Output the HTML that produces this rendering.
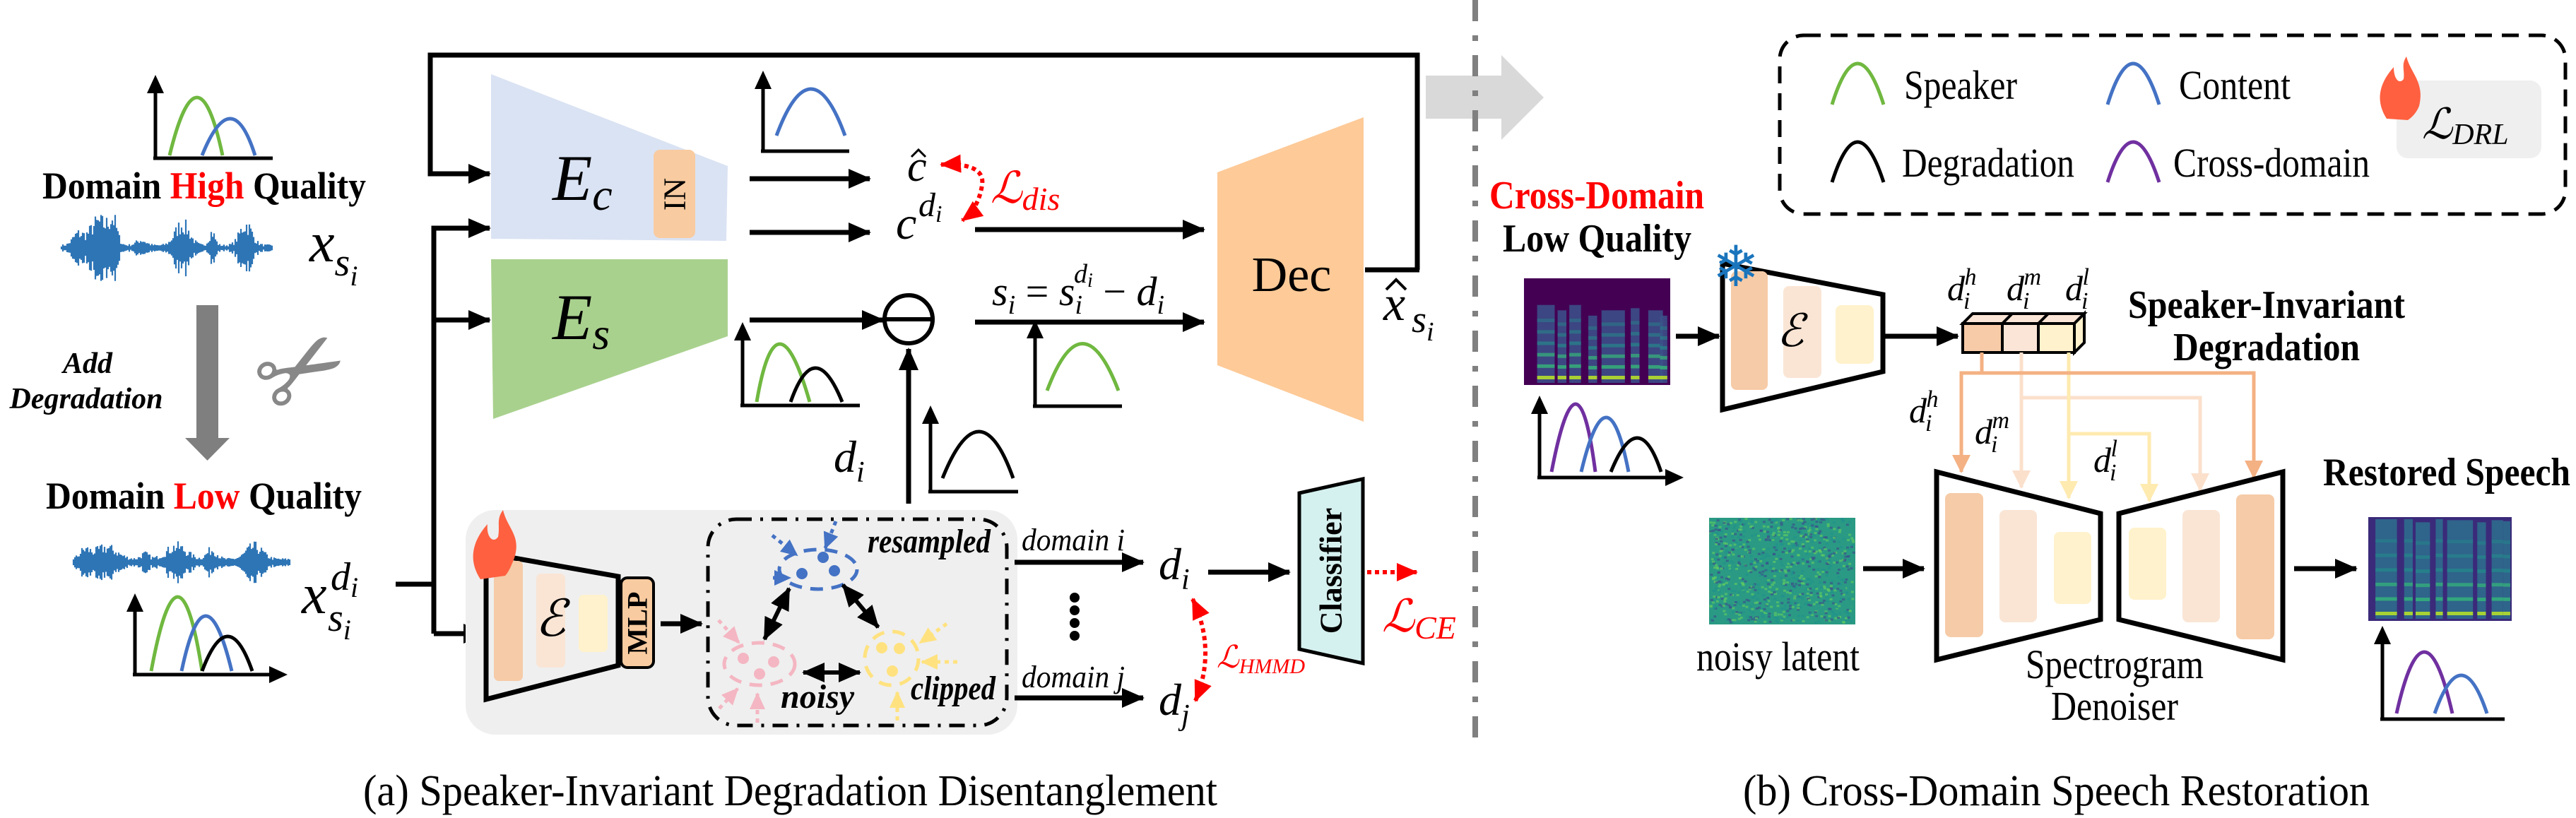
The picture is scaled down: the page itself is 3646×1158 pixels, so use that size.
<!DOCTYPE html>
<html><head><meta charset="utf-8"><style>
html,body{margin:0;padding:0;background:#fff;}
svg{display:block;}
.m{font-style:italic;}
.b{font-weight:bold;}
</style></head><body>
<svg id="s" width="3646" height="1158" viewBox="0 0 3646 1158" xmlns="http://www.w3.org/2000/svg" font-family="Liberation Serif, Times New Roman, Times, DejaVu Serif, serif">
<defs>
<marker id="ah" markerWidth="32" markerHeight="28" refX="30" refY="14" orient="auto" markerUnits="userSpaceOnUse"><path d="M0,0 L32,14 L0,28 z" fill="#000"/></marker>
<marker id="ahs" markerWidth="32" markerHeight="28" refX="2" refY="14" orient="auto" markerUnits="userSpaceOnUse"><path d="M32,0 L0,14 L32,28 z" fill="#000"/></marker>
<marker id="ar" markerWidth="30" markerHeight="26" refX="28" refY="13" orient="auto" markerUnits="userSpaceOnUse"><path d="M0,0 L30,13 L0,26 z" fill="#f00"/></marker>
<marker id="ars" markerWidth="30" markerHeight="26" refX="2" refY="13" orient="auto" markerUnits="userSpaceOnUse"><path d="M30,0 L0,13 L30,26 z" fill="#f00"/></marker>
<marker id="ab" markerWidth="24" markerHeight="22" refX="22" refY="11" orient="auto" markerUnits="userSpaceOnUse"><path d="M0,0 L24,11 L0,22 z" fill="#4472c4"/></marker>
<marker id="ap" markerWidth="24" markerHeight="22" refX="22" refY="11" orient="auto" markerUnits="userSpaceOnUse"><path d="M0,0 L24,11 L0,22 z" fill="#f4b6c2"/></marker>
<marker id="ay" markerWidth="24" markerHeight="22" refX="22" refY="11" orient="auto" markerUnits="userSpaceOnUse"><path d="M0,0 L24,11 L0,22 z" fill="#ffe27f"/></marker>
<marker id="o1" markerWidth="26" markerHeight="26" refX="24" refY="13" orient="auto" markerUnits="userSpaceOnUse"><path d="M0,0 L26,13 L0,26 z" fill="#f4b183"/></marker>
<marker id="o2" markerWidth="26" markerHeight="26" refX="24" refY="13" orient="auto" markerUnits="userSpaceOnUse"><path d="M0,0 L26,13 L0,26 z" fill="#fbe0cc"/></marker>
<marker id="o3" markerWidth="26" markerHeight="26" refX="24" refY="13" orient="auto" markerUnits="userSpaceOnUse"><path d="M0,0 L26,13 L0,26 z" fill="#ffeab0"/></marker>
<marker id="ax" markerWidth="26" markerHeight="24" refX="4" refY="12" orient="auto" markerUnits="userSpaceOnUse"><path d="M0,0 L26,12 L0,24 z" fill="#000"/></marker>
</defs>

<!-- ===== LEFT: input ===== -->
<g fill="none" stroke-width="5">
<path d="M220,224 V128" stroke="#000" marker-end="url(#ax)"/>
<path d="M217,224 H386" stroke="#000"/>
<path d="M240,220 Q280,56 315,220" stroke="#70b840"/>
<path d="M286,220 Q328,116 361,220" stroke="#4472c4"/>
</g>
<text x="60" y="281" font-size="54" class="b" textLength="458" lengthAdjust="spacingAndGlyphs">Domain <tspan fill="#f00">High</tspan> Quality</text>
<g id="wave1"></g>
<text x="438" y="370" font-size="80" class="m">x<tspan font-size="56" dy="20">s</tspan><tspan font-size="40" dy="14">i</tspan></text>
<path d="M278,432 H309 V620 H325 L293.5,652 L262,620 H278 Z" fill="#7f7f7f"/>
<text x="124" y="528" font-size="42" class="m b" text-anchor="middle">Add</text>
<text x="122" y="578" font-size="42" class="m b" text-anchor="middle">Degradation</text>
<text x="431" y="575" font-size="150" text-anchor="middle" fill="#888" font-family="DejaVu Sans, sans-serif" transform="rotate(-30 431 532)">✂</text>
<text x="65" y="720" font-size="54" class="b" textLength="447" lengthAdjust="spacingAndGlyphs">Domain <tspan fill="#f00">Low</tspan> Quality</text>
<g id="wave2"></g>
<g fill="none" stroke-width="5">
<path d="M191,955 V862" stroke="#000" marker-end="url(#ax)"/>
<path d="M188,955 H385" stroke="#000" marker-end="url(#ax)"/>
<path d="M214,950 Q253,740 286,950" stroke="#70b840"/>
<path d="M257,950 Q290,794 328,950" stroke="#4472c4"/>
<path d="M286,950 Q323,852 357,950" stroke="#000"/>
</g>
<text x="427" y="868" font-size="80" class="m">x</text>
<text x="464" y="893" font-size="56" class="m">s<tspan font-size="40" dy="12">i</tspan></text>
<text x="468" y="835" font-size="56" class="m">d<tspan font-size="40" dy="10">i</tspan></text>

<!-- routing lines -->
<g fill="none" stroke="#000" stroke-width="7">
<path d="M560,827 H614"/>
<path d="M2006,382 V78 H609 V246 H693" marker-end="url(#ah)"/>
<path d="M1932,382 H2009"/>
<path d="M614,897 V323 H693" marker-end="url(#ah)"/>
<path d="M614,453 H693" marker-end="url(#ah)"/>
<path d="M614,897 H686" marker-end="url(#ah)"/>
</g>

<!-- Ec / Es -->
<path d="M695,105 L1030,235 L1028,341 L695,338 Z" fill="#dae3f3"/>
<rect x="925" y="212" width="59" height="125" rx="9" fill="#f8cba0"/>
<text x="955" y="275" font-size="44" text-anchor="middle" dominant-baseline="central" transform="rotate(-90 955 275)">IN</text>
<text x="782" y="283" font-size="92" class="m">E<tspan font-size="64" dy="14">c</tspan></text>
<path d="M695,367 L1030,367 L1030,476 L698,593 Z" fill="#a9d18e"/>
<text x="782" y="480" font-size="92" class="m">E<tspan font-size="64" dy="14">s</tspan></text>

<g fill="none" stroke="#000" stroke-width="7">
<path d="M1061,253 H1231" marker-end="url(#ah)"/>
<path d="M1061,329 H1231" marker-end="url(#ah)"/>
<path d="M1061,453 H1250" marker-end="url(#ah)"/>
</g>
<g fill="none" stroke-width="5">
<path d="M1080,214 V122" stroke="#000" marker-end="url(#ax)"/>
<path d="M1077,214 H1202" stroke="#000"/>
<path d="M1099,192 Q1148,60 1196,192" stroke="#4472c4"/>
<path d="M1051,574 V478" stroke="#000" marker-end="url(#ax)"/>
<path d="M1048,574 H1217" stroke="#000"/>
<path d="M1071,569 Q1099,405 1146,569" stroke="#70b840"/>
<path d="M1119,569 Q1153,473 1192,569" stroke="#000"/>
</g>

<!-- c hat, c^di, Ldis -->
<text x="1284" y="256" font-size="62" class="m">c</text>
<path d="M1290,222 L1300,212 L1310,222" fill="none" stroke="#000" stroke-width="3"/>
<text x="1268" y="338" font-size="66" class="m">c</text>
<text x="1300" y="306" font-size="48" class="m">d<tspan font-size="34" dy="8">i</tspan></text>
<path d="M1332,233 Q1395,230 1390,262 Q1385,295 1362,312" fill="none" stroke="#f00" stroke-width="6" stroke-dasharray="6,5" marker-end="url(#ar)" marker-start="url(#ars)"/>
<text x="1402" y="287" font-size="62" fill="#f00" class="m">ℒ<tspan font-size="46" dy="10">dis</tspan></text>
<g fill="none" stroke="#000" stroke-width="7">
<path d="M1380,325 H1704" marker-end="url(#ah)"/>
<path d="M1380,456 H1704" marker-end="url(#ah)"/>
<path d="M1286,713 V494" marker-end="url(#ah)"/>
</g>
<circle cx="1286" cy="452" r="34" fill="#fff" stroke="#000" stroke-width="6"/>
<line x1="1252" y1="452" x2="1320" y2="452" stroke="#000" stroke-width="6"/>
<text x="1404" y="432" font-size="58" class="m">s<tspan font-size="38" dy="12">i</tspan><tspan dy="-12" font-style="normal"> = </tspan>s<tspan font-size="38" dy="12">i</tspan><tspan font-size="38" dx="-12" dy="-44">d</tspan><tspan font-size="28" dy="6">i</tspan><tspan dy="26" font-style="normal"> − </tspan>d<tspan font-size="38" dy="12">i</tspan></text>
<g fill="none" stroke-width="5">
<path d="M1465,575 V475" stroke="#000" marker-end="url(#ax)"/>
<path d="M1462,575 H1588" stroke="#000"/>
<path d="M1482,553 Q1532,420 1583,553" stroke="#70b840"/>
<path d="M1317,696 V596" stroke="#000" marker-end="url(#ax)"/>
<path d="M1314,696 H1441" stroke="#000"/>
<path d="M1334,677 Q1387,545 1434,677" stroke="#000"/>
</g>
<text x="1180" y="668" font-size="64" class="m">d<tspan font-size="42" dy="14">i</tspan></text>

<!-- Dec -->
<path d="M1723,244 L1930,166 L1930,597 L1723,517 Z" fill="#fdca98"/>
<text x="1828" y="412" font-size="70" text-anchor="middle">Dec</text>
<text x="1958" y="453" font-size="70" class="m">x</text>
<path d="M1962,410 L1976,396 L1990,410" fill="none" stroke="#000" stroke-width="4"/>
<text x="1998" y="470" font-size="54" class="m">s<tspan font-size="38" dy="12">i</tspan></text>

<!-- big gray arrow + divider -->
<path d="M2018,107 H2125 V78 L2185,138 L2125,198 V168 H2018 Z" fill="#d9d9d9"/>
<line x1="2088" y1="0" x2="2088" y2="1045" stroke="#808080" stroke-width="8" stroke-dasharray="30,20,8,20"/>

<!-- bottom-left gray area -->
<rect x="659" y="722" width="781" height="318" rx="42" fill="#efefef"/>
<path d="M688,783 L875,816 L875,942 L688,990 Z" fill="none" stroke="#000" stroke-width="7"/>
<rect x="699" y="794" width="41" height="170" rx="7" fill="#f6cba7"/>
<rect x="759" y="812" width="41" height="133" rx="7" fill="#fae5d5"/>
<rect x="819" y="842" width="41" height="81" rx="7" fill="#fff2cc"/>
<text x="779" y="900" font-size="72" text-anchor="middle" class="m">ℰ</text>
<path d="M680,820 C660,790 672,762 690,742 C688,760 698,770 705,760 C708,745 702,735 712,722 C718,748 738,758 728,790 C724,800 720,810 715,815 Z" fill="#ff6040"/>
<rect x="879" y="818" width="46" height="127" rx="9" fill="#f8cba0" stroke="#000" stroke-width="4"/>
<text x="902" y="882" font-size="40" class="b" text-anchor="middle" dominant-baseline="central" transform="rotate(-90 902 882)">MLP</text>
<path d="M935,883 H993" stroke="#000" stroke-width="7" marker-end="url(#ah)"/>
<rect x="1002" y="735" width="423" height="292" rx="40" fill="none" stroke="#000" stroke-width="5" stroke-dasharray="22,12,4,12"/>

<!-- clusters -->
<ellipse cx="1158" cy="806" rx="55" ry="28" fill="none" stroke="#4472c4" stroke-width="5" stroke-dasharray="18,12"/>
<circle cx="1135" cy="812" r="8" fill="#4472c4"/><circle cx="1165" cy="789" r="8" fill="#4472c4"/><circle cx="1181" cy="808" r="8" fill="#4472c4"/>
<g stroke-width="5" stroke-dasharray="6,6" fill="none">
<path d="M1094,818 H1118" stroke="#4472c4" marker-end="url(#ab)"/>
<path d="M1093,758 L1128,786" stroke="#4472c4" marker-end="url(#ab)"/>
<path d="M1183,738 L1168,776" stroke="#4472c4" marker-end="url(#ab)"/>
<path d="M1017,878 L1046,910" stroke="#f4b6c2" marker-end="url(#ap)"/>
<path d="M1018,1003 L1044,975" stroke="#f4b6c2" marker-end="url(#ap)"/>
<path d="M1072,1023 V982" stroke="#f4b6c2" marker-end="url(#ap)"/>
<path d="M1340,883 L1302,910" stroke="#ffe27f" marker-end="url(#ay)"/>
<path d="M1355,937 H1305" stroke="#ffe27f" marker-end="url(#ay)"/>
<path d="M1270,1020 V980" stroke="#ffe27f" marker-end="url(#ay)"/>
</g>
<ellipse cx="1075" cy="940" rx="50" ry="30" fill="none" stroke="#f4b6c2" stroke-width="5" stroke-dasharray="18,12"/>
<circle cx="1052" cy="932" r="8" fill="#f4b6c2"/><circle cx="1095" cy="937" r="8" fill="#f4b6c2"/><circle cx="1075" cy="954" r="8" fill="#f4b6c2"/>
<circle cx="1262" cy="932" r="38" fill="none" stroke="#ffe27f" stroke-width="5" stroke-dasharray="18,12"/>
<circle cx="1248" cy="917" r="8" fill="#ffe27f"/><circle cx="1273" cy="918" r="8" fill="#ffe27f"/><circle cx="1263" cy="950" r="8" fill="#ffe27f"/>
<g stroke="#000" stroke-width="6" fill="none">
<path d="M1117,833 L1082,905" marker-end="url(#ah)" marker-start="url(#ahs)"/>
<path d="M1193,828 L1243,888" marker-end="url(#ah)" marker-start="url(#ahs)"/>
<path d="M1137,952 H1217" marker-end="url(#ah)" marker-start="url(#ahs)"/>
</g>
<text x="1228" y="782" font-size="48" class="m b" textLength="174" lengthAdjust="spacingAndGlyphs">resampled</text>
<text x="1105" y="1002" font-size="48" class="m b">noisy</text>
<text x="1289" y="990" font-size="48" class="m b" textLength="120" lengthAdjust="spacingAndGlyphs">clipped</text>

<!-- domain arrows -->
<text x="1446" y="779" font-size="44" class="m" textLength="146" lengthAdjust="spacingAndGlyphs">domain i</text>
<text x="1446" y="973" font-size="44" class="m" textLength="146" lengthAdjust="spacingAndGlyphs">domain j</text>
<g stroke="#000" stroke-width="7" fill="none">
<path d="M1436,796 H1618" marker-end="url(#ah)"/>
<path d="M1436,988 H1618" marker-end="url(#ah)"/>
<path d="M1710,810 H1825" marker-end="url(#ah)"/>
</g>
<circle cx="1521" cy="846" r="7"/><circle cx="1521" cy="864" r="7"/><circle cx="1521" cy="882" r="7"/><circle cx="1521" cy="900" r="7"/>
<text x="1640" y="820" font-size="64" class="m">d<tspan font-size="42" dy="14">i</tspan></text>
<text x="1640" y="1012" font-size="64" class="m">d<tspan font-size="42" dy="14">j</tspan></text>
<path d="M1688,848 Q1722,920 1692,992" fill="none" stroke="#f00" stroke-width="6" stroke-dasharray="6,5" marker-end="url(#ar)" marker-start="url(#ars)"/>
<text x="1722" y="945" font-size="44" fill="#f00" class="m">ℒ<tspan font-size="30" dy="8">HMMD</tspan></text>
<path d="M1839,698 L1929,678 L1929,939 L1839,919 Z" fill="#d5f1ef" stroke="#000" stroke-width="5"/>
<text x="1884" y="808" font-size="44" class="b" text-anchor="middle" dominant-baseline="central" transform="rotate(-90 1884 808)">Classifier</text>
<path d="M1935,810 H2005" stroke="#f00" stroke-width="6" stroke-dasharray="6,5" marker-end="url(#ar)" fill="none"/>
<text x="1956" y="894" font-size="64" fill="#f00" class="m">ℒ<tspan font-size="46" dy="10">CE</tspan></text>

<text x="514" y="1140" font-size="62" textLength="1209" lengthAdjust="spacingAndGlyphs">(a) Speaker-Invariant Degradation Disentanglement</text>

<!-- ===== RIGHT ===== -->
<rect x="2519" y="50" width="1112" height="253" rx="34" fill="none" stroke="#000" stroke-width="5" stroke-dasharray="24,14"/>
<g fill="none" stroke-width="5">
<path d="M2593,148 Q2629,32 2666,148" stroke="#70b840"/>
<path d="M2983,148 Q3019,32 3056,148" stroke="#4472c4"/>
<path d="M2593,258 Q2629,144 2666,258" stroke="#000"/>
<path d="M2983,258 Q3019,144 3056,258" stroke="#7030a0"/>
</g>
<text x="2695" y="140" font-size="58" textLength="160" lengthAdjust="spacingAndGlyphs">Speaker</text>
<text x="3084" y="140" font-size="58" textLength="158" lengthAdjust="spacingAndGlyphs">Content</text>
<text x="2692" y="250" font-size="58" textLength="244" lengthAdjust="spacingAndGlyphs">Degradation</text>
<text x="3076" y="250" font-size="58" textLength="278" lengthAdjust="spacingAndGlyphs">Cross-domain</text>
<rect x="3392" y="114" width="205" height="110" rx="16" fill="#efefef"/>
<path d="M3378,168 C3360,140 3370,115 3388,95 C3388,112 3396,120 3402,112 C3404,100 3398,92 3406,80 C3412,104 3432,116 3424,150 C3420,160 3414,166 3408,170 Z" fill="#ff6040"/>
<text x="3428" y="196" font-size="60" class="m">ℒ<tspan font-size="42" dy="8">DRL</tspan></text>

<text x="2108" y="295" font-size="56" class="b" fill="#f00" textLength="304" lengthAdjust="spacingAndGlyphs">Cross-Domain</text>
<text x="2127" y="356" font-size="56" class="b" textLength="267" lengthAdjust="spacingAndGlyphs">Low Quality</text>
<g id="spec1"></g>
<g fill="none" stroke-width="5">
<path d="M2179,676 V582" stroke="#000" marker-end="url(#ax)"/>
<path d="M2176,676 H2361" stroke="#000" marker-end="url(#ax)"/>
<path d="M2196,668 Q2233,476 2258,668" stroke="#7030a0"/>
<path d="M2238,668 Q2275,514 2305,668" stroke="#4472c4"/>
<path d="M2280,668 Q2319,572 2351,668" stroke="#000"/>
</g>
<path d="M2372,476 H2433" stroke="#000" stroke-width="7" marker-end="url(#ah)"/>
<path d="M2438,373 L2665,417 L2665,526 L2438,580 Z" fill="none" stroke="#000" stroke-width="7"/>
<rect x="2450" y="384" width="52" height="168" rx="8" fill="#f6cba7"/>
<rect x="2524" y="405" width="54" height="130" rx="8" fill="#fae5d5"/>
<rect x="2598" y="432" width="54" height="83" rx="8" fill="#fff2cc"/>
<text x="2534" y="490" font-size="64" text-anchor="middle" class="m">ℰ</text>
<text x="2457" y="405" font-size="80" text-anchor="middle" fill="#1a75bc" font-family="DejaVu Sans, sans-serif">❄</text>
<path d="M2665,476 H2771" stroke="#000" stroke-width="7" marker-end="url(#ah)"/>
<!-- cubes -->
<g stroke="#000" stroke-width="4">
<path d="M2778,458 L2792,444 L2950,444 L2936,458 Z" fill="#fbe5d6"/>
<path d="M2936,458 L2950,444 L2950,485 L2936,499 Z" fill="#fff2cc"/>
<rect x="2778" y="458" width="56" height="41" fill="#f8cba8"/>
<rect x="2834" y="458" width="51" height="41" fill="#fbe5d6"/>
<rect x="2885" y="458" width="51" height="41" fill="#fff2cc"/>
<line x1="2834" y1="458" x2="2848" y2="444"/><line x1="2885" y1="458" x2="2899" y2="444"/>
</g>
<text x="2756" y="425" font-size="50" class="m">d<tspan font-size="34" dx="-2" dy="12">i</tspan><tspan font-size="34" dx="-8" dy="-34">h</tspan></text>
<text x="2840" y="425" font-size="50" class="m">d<tspan font-size="34" dx="-2" dy="12">i</tspan><tspan font-size="34" dx="-8" dy="-34">m</tspan></text>
<text x="2923" y="425" font-size="50" class="m">d<tspan font-size="34" dx="-2" dy="12">i</tspan><tspan font-size="34" dx="-8" dy="-34">l</tspan></text>
<text x="3012" y="450" font-size="56" class="b" textLength="392" lengthAdjust="spacingAndGlyphs">Speaker-Invariant</text>
<text x="3076" y="510" font-size="56" class="b" textLength="264" lengthAdjust="spacingAndGlyphs">Degradation</text>
<!-- connectors -->
<g fill="none" stroke-width="5">
<path d="M2861,499 V563 H3114 V694" stroke="#fbe0cc" marker-end="url(#o2)"/>
<path d="M2861,563 V690" stroke="#fbe0cc" marker-end="url(#o2)"/>
<path d="M2928,499 V614 H3042 V709" stroke="#ffeab0" marker-end="url(#o3)"/>
<path d="M2928,614 V705" stroke="#ffeab0" marker-end="url(#o3)"/>
<path d="M2805,499 V528 H3190 V676" stroke="#f4b183" marker-end="url(#o1)"/>
<path d="M2805,528 H2776 V668" stroke="#f4b183" marker-end="url(#o1)"/>
</g>
<text x="2702" y="598" font-size="50" class="m">d<tspan font-size="34" dx="-2" dy="12">i</tspan><tspan font-size="34" dx="-8" dy="-34">h</tspan></text>
<text x="2795" y="628" font-size="50" class="m">d<tspan font-size="34" dx="-2" dy="12">i</tspan><tspan font-size="34" dx="-8" dy="-34">m</tspan></text>
<text x="2963" y="668" font-size="50" class="m">d<tspan font-size="34" dx="-2" dy="12">i</tspan><tspan font-size="34" dx="-8" dy="-34">l</tspan></text>
<!-- denoiser -->
<path d="M2741,668 L2973,727 L2973,877 L2741,934 Z" fill="none" stroke="#000" stroke-width="7"/>
<path d="M2999,727 L3231,668 L3231,934 L2999,877 Z" fill="none" stroke="#000" stroke-width="7"/>
<rect x="2753" y="698" width="54" height="204" rx="8" fill="#f6cba7"/>
<rect x="2830" y="722" width="53" height="159" rx="8" fill="#fae5d5"/>
<rect x="2907" y="753" width="53" height="102" rx="8" fill="#fff2cc"/>
<rect x="3013" y="747" width="53" height="102" rx="8" fill="#fff2cc"/>
<rect x="3089" y="722" width="53" height="159" rx="8" fill="#fae5d5"/>
<rect x="3165" y="700" width="54" height="205" rx="8" fill="#f6cba7"/>
<g id="noise"></g>
<text x="2401" y="949" font-size="58" textLength="231" lengthAdjust="spacingAndGlyphs">noisy latent</text>
<path d="M2637,805 H2723" stroke="#000" stroke-width="7" marker-end="url(#ah)"/>
<path d="M3247,805 H3335" stroke="#000" stroke-width="7" marker-end="url(#ah)"/>
<text x="2993" y="960" font-size="58" text-anchor="middle" textLength="252" lengthAdjust="spacingAndGlyphs">Spectrogram</text>
<text x="2993" y="1019" font-size="58" text-anchor="middle" textLength="180" lengthAdjust="spacingAndGlyphs">Denoiser</text>
<text x="3288" y="687" font-size="56" class="b" textLength="350" lengthAdjust="spacingAndGlyphs">Restored Speech</text>
<g id="spec3"></g>
<g fill="none" stroke-width="5">
<path d="M3372,1018 V908" stroke="#000" marker-end="url(#ax)"/>
<path d="M3369,1018 H3545" stroke="#000"/>
<path d="M3392,1010 Q3431,836 3471,1010" stroke="#7030a0"/>
<path d="M3446,1010 Q3484,902 3520,1010" stroke="#4472c4"/>
</g>
<text x="2467" y="1140" font-size="62" textLength="887" lengthAdjust="spacingAndGlyphs">(b) Cross-Domain Speech Restoration</text>
</svg>
<script>
(function(){
var NS="http://www.w3.org/2000/svg";
function el(p,t,a){var e=document.createElementNS(NS,t);for(var k in a)e.setAttribute(k,a[k]);p.appendChild(e);return e;}
var seed=7;function r(){seed=(seed*16807)%2147483647;return seed/2147483647;}
function wave(id,x0,x1,cy,env){var g=document.getElementById(id);var d="";for(var x=x0;x<=x1;x+=2){var a=env(x)*(0.4+0.6*r());d+="M"+x+","+(cy-a)+"V"+(cy+a);}el(g,"path",{d:d,stroke:"#2e75b6","stroke-width":"2.2",fill:"none"});}
function bump(x,c,w,h){var t=(x-c)/w;return h*Math.exp(-t*t);}
wave("wave1",87,386,351,function(x){return 5+bump(x,140,18,45)+bump(x,160,8,40)+bump(x,200,10,10)+bump(x,258,14,40)+bump(x,300,6,25)+bump(x,348,12,40)+bump(x,110,10,20);});
wave("wave2",104,410,796,function(x){return 6+bump(x,150,22,22)+bump(x,250,20,24)+bump(x,300,10,18)+bump(x,360,16,24)+bump(x,120,10,16)+bump(x,205,8,10);});
function spec(id,x0,y0,w,h,bg,cols,blue){var g=document.getElementById(id);el(g,"rect",{x:x0,y:y0,width:w,height:h,fill:bg});
 for(var i=0;i<cols.length;i++){var c=cols[i];var cx=x0+c[0]*w,cw=c[1]*w,top=y0+c[2]*h;
  el(g,"rect",{x:cx,y:top,width:cw,height:y0+h-top-3,fill:blue?"#2e6e8e":"#3b528b",opacity:0.85});
  for(var k=0;k<6;k++){var yy=y0+h-10-k*((y0+h-top)/7);var col=k<1?"#b5de2b":(k<3?"#35b779":"#21918c");el(g,"rect",{x:cx,y:yy-3,width:cw,height:5,fill:col,opacity:0.9-k*0.1});}}}
var cols=[[0.09,0.12,0.25],[0.23,0.06,0.3],[0.31,0.08,0.25],[0.44,0.06,0.35],[0.53,0.16,0.3],[0.73,0.06,0.28],[0.85,0.1,0.3],[0.93,0.05,0.35]];
spec("spec1",2157,394,207,151,"#440154",cols,false);
spec("spec3",3352,732,203,147,"#3b2a7a",[[0.05,0.15,0.02],[0.25,0.06,0.02],[0.33,0.1,0.05],[0.47,0.05,0.02],[0.55,0.18,0.03],[0.76,0.06,0.05],[0.86,0.08,0.03],[0.94,0.05,0.04]],true);
var g=document.getElementById("noise");el(g,"rect",{x:2419,y:733,width:207,height:151,fill:"#2a9a84"});
for(var i=0;i<900;i++){var x=2419+r()*203,y=733+r()*147;var c=r();el(g,"rect",{x:x,y:y,width:4,height:3,fill:c<0.35?"#3b528b":(c<0.7?"#5ec962":"#21918c"),opacity:0.7});}
})();
</script>
</body></html>
